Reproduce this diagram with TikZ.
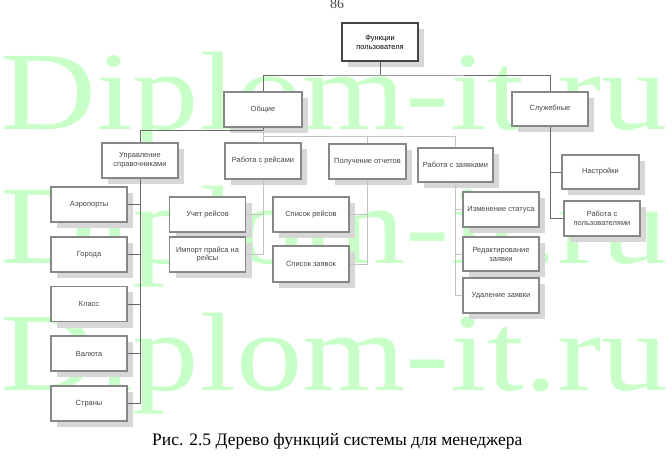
\documentclass[tikz,border=0pt]{standalone}
\usepackage{fontspec}
\usepackage{graphicx}
\setmainfont{Liberation Serif}
\newfontfamily\boxfont{Liberation Sans}
\usetikzlibrary{shadows}
\definecolor{wm}{RGB}{200,255,200}
\definecolor{boxline}{RGB}{135,135,135}
\definecolor{rootline}{RGB}{70,70,70}
\definecolor{darkline}{RGB}{105,105,105}
\definecolor{lightline}{RGB}{195,195,195}
\definecolor{shadowc}{RGB}{215,215,215}
\definecolor{txt}{RGB}{70,70,70}
\begin{document}
\begin{tikzpicture}[x=1bp,y=-1bp,
  fbox/.style={draw=boxline, line width=1.8bp, fill=white,
    minimum width=76bp, minimum height=35bp, inner sep=1bp, align=center,
    font=\boxfont\fontsize{7.5}{9}\selectfont, text=txt,
    drop shadow={shadow xshift=6bp, shadow yshift=-6bp, fill=shadowc, draw=none, opacity=1}},
  rootbox/.style={fbox, draw=rootline, text=black},
  dline/.style={draw=darkline, line width=0.8bp},
  lline/.style={draw=lightline, line width=0.8bp},
  wmark/.style={anchor=base west, inner sep=0pt, text=wm, font=\fontsize{112}{112}\selectfont}
]
\useasboundingbox[fill=white] (0,0) rectangle (672,460);
% watermark
\node[wmark] (w1) at (0,130) {\scalebox{1.19}[1]{Diplom-it.ru}};
\node[wmark] (w2) at (0,264) {\scalebox{1.19}[1]{Diplom-it.ru}};
\node[wmark] (w3) at (0,390) {\scalebox{1.19}[1]{Diplom-it.ru}};
% page number
\node[anchor=base, inner sep=0pt, text=black!70, font=\fontsize{14}{14}\selectfont] (pg) at (337,9) {86};
% boxes
\node[rootbox, minimum width=76bp, minimum height=38bp] (root) at (380,42) {Функции\\пользователя};
\node[fbox, minimum width=78bp] (obsh) at (263,109.5) {Общие};
\node[fbox, minimum height=34bp] (sluzh) at (550,109) {Служебные};
\node[fbox] (upr) at (140,160.5) {Управление\\справочниками};
\node[fbox, minimum height=36bp] (rabr) at (263,161) {Работа с рейсами};
\node[fbox, minimum width=77bp] (poluch) at (367.5,161.5) {Получение отчетов};
\node[fbox, minimum width=75bp, minimum height=34bp] (rabz) at (455.5,165) {Работа с заявками};
\node[fbox] (aero) at (89,204.5) {Аэропорты};
\node[fbox] (gor) at (89,254.5) {Города};
\node[fbox] (klass) at (89,304) {Класс};
\node[fbox] (val) at (89,353.5) {Валюта};
\node[fbox] (str) at (89,403.5) {Страны};
\node[fbox] (uchet) at (207.5,214.5) {Учет рейсов};
\node[fbox] (import) at (207.5,254.5) {Импорт прайса на\\рейсы};
\node[fbox] (spisr) at (311,214.5) {Список рейсов};
\node[fbox, minimum height=36bp] (spisz) at (311,264) {Список заявок};
\node[fbox] (izm) at (501,209.5) {Изменение статуса};
\node[fbox, minimum height=34bp] (red) at (501,254) {Редактирование\\заявки};
\node[fbox] (ud) at (501,295.5) {Удаление заявки};
\node[fbox, minimum width=77bp, minimum height=34bp] (nastr) at (600.5,172) {Настройки};
\node[fbox] (rabp) at (602,218.5) {Работа с\\пользователями};
% connectors
\coordinate (t0) at (380,75);
\coordinate (t1) at (263,130);
\coordinate (t2) at (263,136);
\draw[dline] (root.south) -- (t0);
\draw[dline] (obsh.north) |- (t0) -| (sluzh.north);
\draw[dline] (obsh.south) -- (t1) -| (upr.north);
\draw[lline] (t1) -- (t2) -| (rabz.north);
\draw[lline] (t2) -- (rabr.north);
\draw[lline] (poluch.north) |- (t2);
\draw[dline] (aero.east) -| (upr.south);
\draw[dline] (gor.east) -| (upr.south);
\draw[dline] (klass.east) -| (upr.south);
\draw[dline] (val.east) -| (upr.south);
\draw[dline] (str.east) -| (upr.south);
\draw[lline] (uchet.east) -| (rabr.south);
\draw[lline] (import.east) -| (rabr.south);
\draw[lline] (spisr.east) -| (poluch.south);
\draw[lline] (spisz.east) -| (poluch.south);
\draw[lline] (izm.west) -| (rabz.south);
\draw[lline] (red.west) -| (rabz.south);
\draw[lline] (ud.west) -| (rabz.south);
\draw[dline] (nastr.west) -| (sluzh.south);
\draw[dline] (rabp.west) -| (sluzh.south);
% caption
\node[anchor=base west, inner sep=0pt, font=\fontsize{17.6}{18}\selectfont] (cap) at (152,445) {Рис. 2.5 Дерево функций системы для менеджера};
\end{tikzpicture}
\end{document}
